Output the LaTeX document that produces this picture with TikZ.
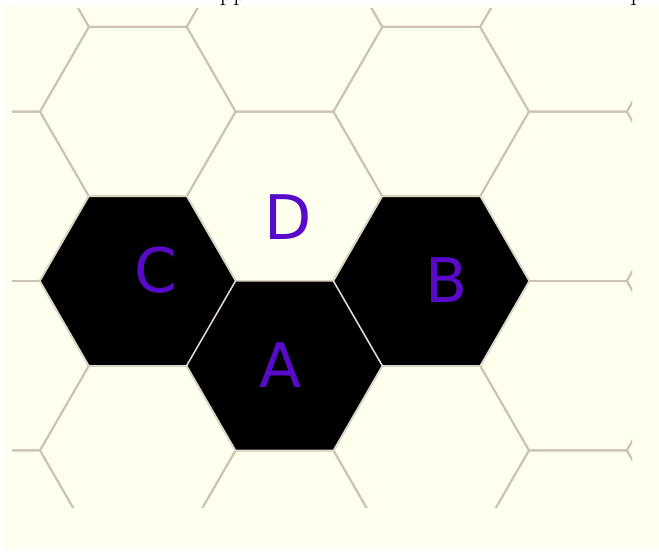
\documentclass[tikz,border=0pt]{standalone}
\usepackage{fontspec}
\newfontfamily\cellfont{DejaVu Sans}
\definecolor{boardbg}{RGB}{255,255,240}
\definecolor{gridline}{RGB}{206,194,180}
\definecolor{stoneedge}{RGB}{224,216,202}
\definecolor{cellname}{RGB}{88,10,200}
\tikzset{
  hexline/.style={draw=gridline, line width=1.1pt},
  stone/.style={fill=black, draw=stoneedge, line width=0.8pt},
  cellname/.style={text=cellname, font=\cellfont\fontsize{35}{40}\selectfont, inner sep=0pt},
  cuttext/.style={anchor=base, inner sep=0pt, font=\fontsize{15}{18}\selectfont}
}
\begin{document}
\begin{tikzpicture}[x=0.02cm,y=-0.02cm]
        \useasboundingbox (0,0) rectangle (659,551);
        \fill[white] (0,0) rectangle (659,551);
        % text line above, cut off
        \begin{scope}
            \clip (0,0) rectangle (659,6);
            \node[cuttext] (cutleft) at (233,0.5) {pp};
            \node[cuttext] (cutright) at (637,0.5) {p};
        \end{scope}
        \fill[boardbg] (4,6) rectangle (659,549);
        % board cells
        \begin{scope}
            \clip (12,8) rectangle (632,507);
            \foreach \k in {-1,...,4} {
                \pgfmathsetmacro{\cx}{137.8+146.7*\k}
                \pgfmathsetmacro{\dy}{mod(abs(\k),2)*84.7}
                \foreach \j in {-2,...,2} {
                    \pgfmathsetmacro{\cy}{281+\dy+169.4*\j}
                    \draw[hexline] (\cx-97.8,\cy) -- (\cx-48.9,\cy-84.7) -- (\cx+48.9,\cy-84.7)
                        -- (\cx+97.8,\cy) -- (\cx+48.9,\cy+84.7) -- (\cx-48.9,\cy+84.7) -- cycle;
                }
            }
        \end{scope}
        % black cells
        \foreach \cx/\cy in {137.8/281, 284.5/365.7, 431.3/281} {
            \draw[stone] (\cx-97.8,\cy) -- (\cx-48.9,\cy-84.7) -- (\cx+48.9,\cy-84.7)
                -- (\cx+97.8,\cy) -- (\cx+48.9,\cy+84.7) -- (\cx-48.9,\cy+84.7) -- cycle;
        }
        \node[cellname] (cellD) at (288,217) {D};
        \node[cellname] (cellC) at (156,270) {C};
        \node[cellname] (cellB) at (447,280) {B};
        \node[cellname] (cellA) at (281,365) {A};
    \end{tikzpicture}
\end{document}
